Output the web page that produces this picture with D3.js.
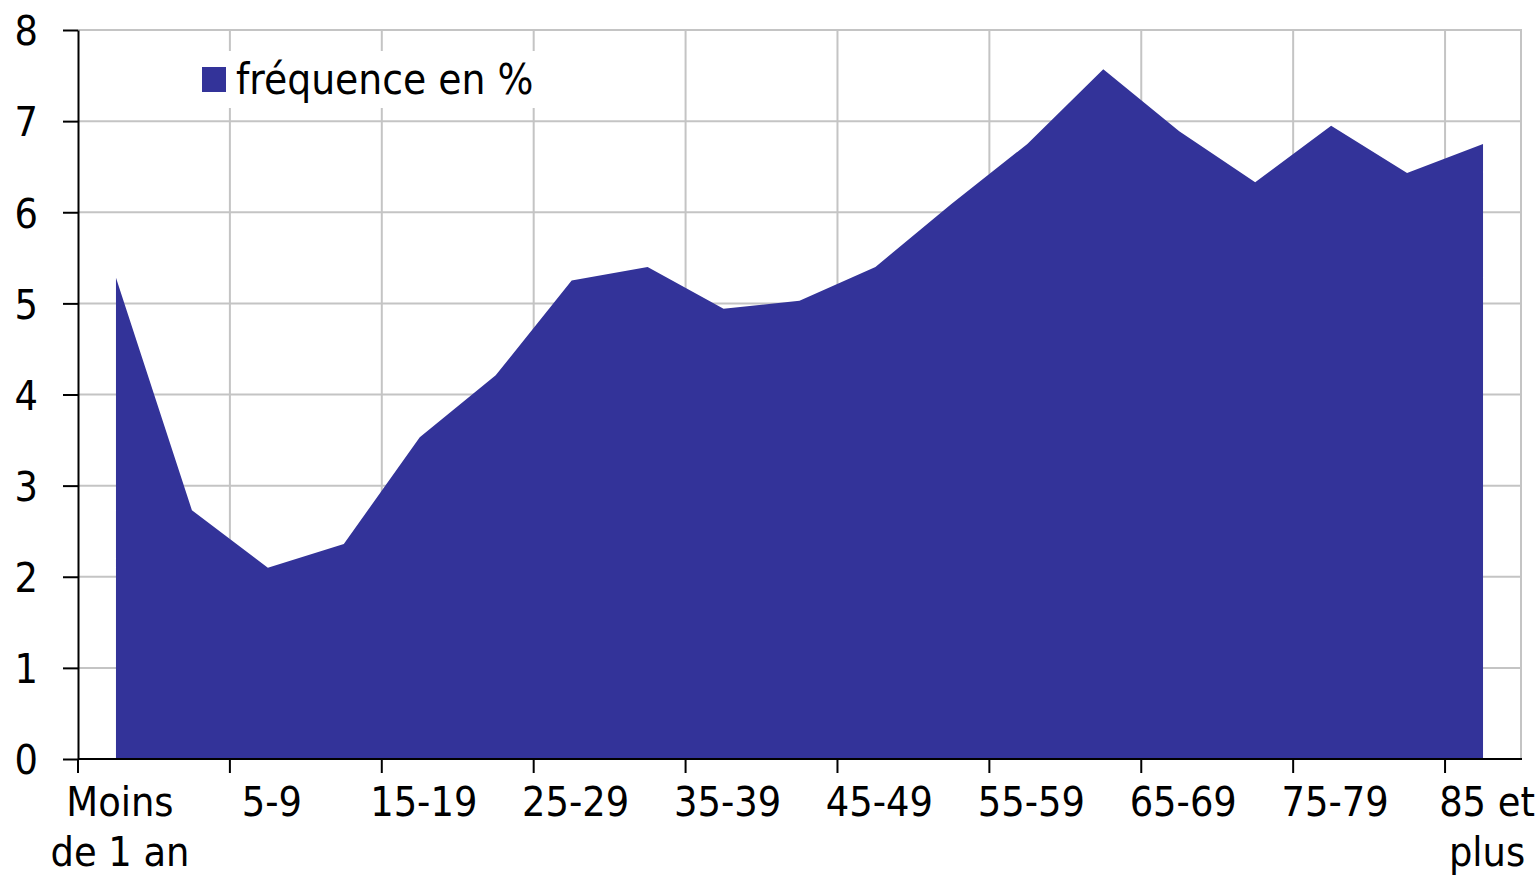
<!DOCTYPE html>
<html>
<head>
<meta charset="utf-8">
<script src="https://cdn.jsdelivr.net/npm/d3@7"></script>
<style>
    body { margin: 0; background: #fff; }
    svg text { font-family: "DejaVu Sans Condensed", "DejaVu Sans", sans-serif; fill: #000; }
    .grid line { stroke: #c4c4c4; stroke-width: 2; }
    .axis path, .axis line { stroke: #000; stroke-width: 2; }
</style>
</head>
<body>
<div id="chart"></div>
<script>
// Age groups (x categories)
var categories = ["Moins de 1 an", "1-4", "5-9", "10-14", "15-19", "20-24", "25-29", "30-34",
    "35-39", "40-44", "45-49", "50-54", "55-59", "60-64", "65-69", "70-74", "75-79", "80-84", "85 et plus"];
// Frequency in % for each age group
var frequence = [5.28, 2.73, 2.10, 2.36, 3.53, 4.21, 5.25, 5.40, 4.94, 5.03, 5.40,
    6.09, 6.75, 7.57, 6.89, 6.33, 6.95, 6.43, 6.75];
// Labels shown under the axis (every other category), split in lines
var tickLabels = {
    "Moins de 1 an": ["Moins", "de 1 an"],
    "5-9": ["5-9"], "15-19": ["15-19"], "25-29": ["25-29"], "35-39": ["35-39"],
    "45-49": ["45-49"], "55-59": ["55-59"], "65-69": ["65-69"], "75-79": ["75-79"],
    "85 et plus": ["85 et", "plus"]
};
var yTicks = [0, 1, 2, 3, 4, 5, 6, 7, 8];
var seriesName = "fréquence en %";

var w = 1535, h = 875;
var padL = 78, padR = 1521, padT = 30, padB = 759;

var svg = d3.select("#chart").append("svg")
    .attr("width", w)
    .attr("height", h);

var x = d3.scaleBand().domain(categories).range([padL, padR]);
var bw = x.bandwidth();
var y = d3.scaleLinear().domain([0, 8]).range([padB, padT]);

var shown = categories.filter(function(d, i) { return i % 2 === 0; });

// gridlines
var grid = svg.append("g").attr("class", "grid");
grid.selectAll(".hg").data(yTicks.slice(1)).enter().append("line")
    .attr("x1", padL).attr("x2", padR)
    .attr("y1", d => y(d)).attr("y2", d => y(d));
grid.selectAll(".vg").data(shown.slice(1)).enter().append("line")
    .attr("x1", d => x(d)).attr("x2", d => x(d))
    .attr("y1", padT).attr("y2", padB);
grid.append("line")
    .attr("x1", padR).attr("x2", padR)
    .attr("y1", padT - 1).attr("y2", padB);

// legend box (hides gridlines behind it)
var legend = svg.append("g");
legend.append("rect")
    .attr("x", 196).attr("y", 51).attr("width", 346).attr("height", 57)
    .attr("fill", "#fff");
legend.append("rect")
    .attr("x", 202).attr("y", 67).attr("width", 24).attr("height", 25)
    .attr("fill", "#333399");
legend.append("text")
    .attr("x", 236).attr("y", 94)
    .attr("font-size", 42)
    .text(seriesName);

// area
var area = d3.area()
    .x((d, i) => x(categories[i]) + bw / 2)
    .y0(y(0))
    .y1(d => y(d));

svg.append("path")
    .datum(frequence)
    .attr("fill", "#333399")
    .attr("d", area);

// y axis
var yAxis = svg.append("g")
    .attr("class", "axis")
    .attr("transform", `translate(${padL},0)`)
    .call(d3.axisLeft(y).tickValues(yTicks).tickSize(15).tickSizeOuter(0).tickPadding(25));
yAxis.selectAll("text").attr("font-size", 41).attr("font-family", null).attr("dy", "0.36em");

// x axis
var xAxis = svg.append("g")
    .attr("class", "axis")
    .attr("transform", `translate(0,${padB})`)
    .call(d3.axisBottom(x).tickValues(shown).tickSize(14).tickSizeOuter(0).tickFormat(""));
xAxis.select(".domain").attr("d", `M${padL},0H${padR + 1}`);
xAxis.selectAll(".tick line").attr("x1", -bw / 2).attr("x2", -bw / 2);
xAxis.selectAll(".tick").each(function(d) {
    var t = d3.select(this).select("text")
        .attr("font-size", 41)
        .attr("font-family", null)
        .attr("text-anchor", "middle")
        .attr("y", 0)
        .attr("dy", null);
    t.selectAll("tspan").data(tickLabels[d]).enter().append("tspan")
        .attr("x", 4)
        .attr("y", (s, i) => 57 + i * 50)
        .text(s => s);
});
</script>
</body>
</html>
